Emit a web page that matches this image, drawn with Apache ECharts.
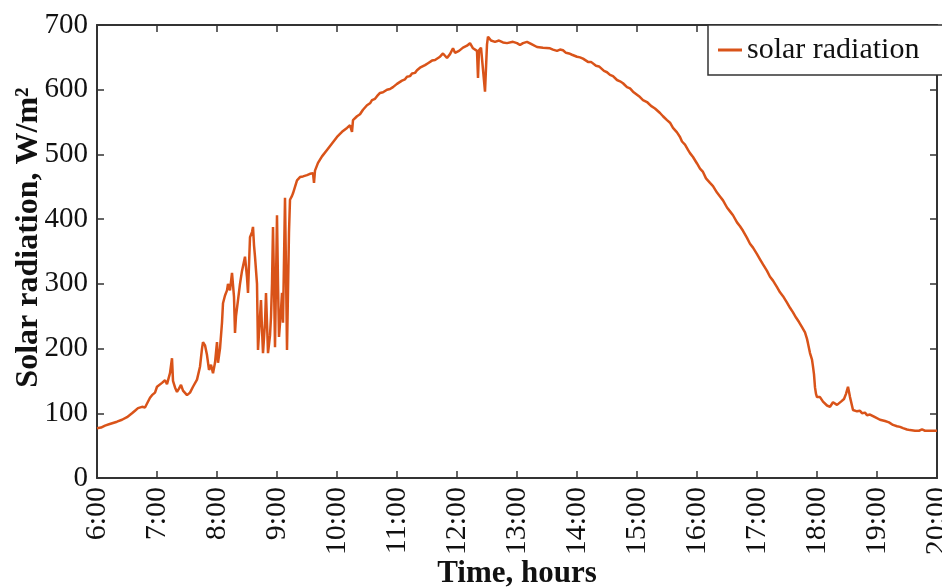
<!DOCTYPE html>
<html>
<head>
<meta charset="utf-8">
<script src="https://cdn.jsdelivr.net/npm/echarts@6/dist/echarts.min.js"></script>
<style>
html,body{margin:0;padding:0;background:#fff;}
#chart{width:942px;height:587px;}
</style>
</head>
<body>
<div id="chart"></div>
<script>
// Time of day (HH:MM) and solar radiation (W/m²)
var times = [
"6:00","6:02","6:04","6:06","6:08","6:10","6:12","6:14","6:16","6:18","6:20","6:22","6:25","6:27","6:30","6:32","6:35","6:38","6:41","6:43","6:45","6:48","6:50","6:53","6:55","6:58",
"7:00","7:02","7:05","7:08","7:10","7:13","7:15","7:16","7:18","7:20","7:22","7:24","7:26","7:30","7:33","7:36","7:40","7:43","7:45","7:46","7:48","7:50","7:52","7:54","7:56","7:58",
"8:00","8:01","8:03","8:05","8:06","8:08","8:10","8:11","8:13","8:15","8:17","8:18","8:19","8:21","8:23","8:25","8:28","8:30","8:31","8:33","8:35","8:36","8:37","8:38","8:40","8:41","8:43","8:44","8:45","8:46","8:48","8:49","8:50","8:51","8:53","8:54","8:55","8:56","8:57","8:58",
"9:00","9:01","9:02","9:04","9:05","9:06","9:08","9:09","9:10","9:12","9:13","9:15","9:16","9:18","9:20","9:23","9:26","9:30","9:33","9:36","9:37","9:38","9:41","9:43","9:45","9:47","9:50","9:52","9:55","9:57",
"10:00","10:02","10:05","10:07","10:10","10:13","10:15","10:16","10:18","10:20","10:23","10:26","10:28","10:30","10:33","10:35","10:38","10:40","10:43","10:46","10:50","10:53","10:56",
"11:00","11:02","11:05","11:08","11:10","11:13","11:15","11:18","11:20","11:23","11:25","11:28","11:31","11:33","11:35","11:38","11:40","11:43","11:46","11:48","11:50","11:53","11:56","11:58",
"12:02","12:06","12:10","12:13","12:16","12:18","12:20","12:21","12:22","12:24","12:26","12:28","12:30","12:31","12:34","12:38","12:42","12:46","12:50","12:56",
"13:00","13:03","13:06","13:10","13:15","13:20","13:26","13:33","13:36","13:40","13:43","13:46","13:49","13:52","13:55",
"14:00","14:03","14:06","14:08","14:11","14:14","14:16","14:19","14:22","14:24","14:27","14:30","14:33","14:36","14:40","14:43","14:46","14:50","14:53","14:56","14:58",
"15:02","15:06","15:10","15:14","15:18","15:23","15:26","15:30","15:33","15:36","15:40","15:43","15:45","15:48","15:51","15:53","15:56",
"16:00","16:03","16:06","16:09","16:13","16:16","16:20","16:23","16:26","16:30","16:33","16:36","16:40","16:43","16:46","16:50","16:53","16:56",
"17:00","17:03","17:06","17:10","17:13","17:16","17:20","17:23","17:26","17:30","17:33","17:36","17:39","17:42","17:45","17:48","17:50","17:51","17:53","17:55","17:56","17:57","17:58","17:59",
"18:00","18:03","18:06","18:10","18:13","18:16","18:18","18:20","18:24","18:27","18:29","18:31","18:33","18:36","18:38","18:40","18:43","18:45","18:48","18:50","18:53","18:55","18:58",
"19:00","19:03","19:05","19:08","19:10","19:12","19:14","19:16","19:18","19:20","19:23","19:26","19:28","19:30","19:33","19:35","19:38","19:40","19:42","19:45","19:48","19:50","19:53","19:55","19:58","20:00"
];
var radiation = [
77,79,78,80,81,80,83,84,85,86,87,88,90,92,94,96,100,104,108,110,110,109,110,124,128,132,
141,139,147,151,145,162,185,150,140,133,138,144,135,128,132,141,152,172,200,210,205,190,167,175,162,178,
210,178,200,240,270,282,290,300,290,317,280,224,250,275,300,320,342,310,286,372,380,388,360,342,300,198,250,275,230,193,240,286,240,193,220,249,300,388,300,202,
406,300,218,260,286,240,433,320,198,380,430,436,440,450,460,465,466,468,470,471,456,475,487,490,497,499,507,509,517,518,
527,529,535,536,541,545,535,553,555,559,562,569,571,576,579,584,586,590,595,596,600,601,604,
609,610,614,616,620,621,625,626,630,634,633,638,641,640,645,646,648,651,656,658,649,655,664,657,
660,665,668,672,664,661,660,618,661,665,662,597,670,682,676,674,676,673,672,674,
672,669,672,674,670,666,665,664,662,660,662,661,657,656,654,
651,650,648,647,643,643,641,637,636,633,629,627,623,621,615,613,610,604,602,597,594,
590,584,581,575,571,564,559,553,549,541,534,527,520,515,507,502,496,
486,478,473,463,456,451,441,435,429,418,412,406,395,389,382,371,362,356,
346,338,330,320,311,305,295,287,281,271,263,256,248,241,233,225,215,208,193,183,172,160,140,130,
125,125,118,112,110,117,117,113,118,122,130,141,125,105,106,103,104,100,101,97,98,95,94,
92,90,91,88,88,86,86,82,82,80,79,77,76,75,74,75,73,75,73,75,73,75,73,74,73,73
];
var xTicks = ["6:00","7:00","8:00","9:00","10:00","11:00","12:00","13:00","14:00","15:00","16:00","17:00","18:00","19:00","20:00"];

function toHours(s){var p=s.split(":");return +p[0]+(+p[1])/60;}
var seriesData = times.map(function(t,i){return [toHours(t), radiation[i]];});

var FONT = "'Liberation Serif','Times New Roman',serif";
var AX = '#333';
var chart = echarts.init(document.getElementById('chart'), null, {renderer:'canvas'});
var tickIn = {show:true, inside:true, length:7, lineStyle:{color:AX, width:1.5}};
chart.setOption({
  animation:false,
  backgroundColor:'#fff',
  grid:{left:97, right:5, top:25, bottom:109, containLabel:false, outerBoundsMode:'none'},
  legend:{
    data:['solar radiation'],
    left:708, top:25,
    padding:[10,40,10,10],
    itemWidth:24, itemHeight:3,
    icon:'rect',
    backgroundColor:'#fff',
    borderColor:AX, borderWidth:1.5, borderRadius:0,
    textStyle:{fontFamily:FONT, fontSize:30, color:'#111'}
  },
  xAxis:[{
    type:'value', min:6, max:20, interval:1, position:'bottom',
    axisLine:{show:true, onZero:false, lineStyle:{color:AX, width:2}},
    axisTick:tickIn,
    splitLine:{show:false},
    axisLabel:{rotate:90, margin:9, fontFamily:FONT, fontSize:30, color:'#111',
      formatter:function(v){var i=Math.round(v-6);return xTicks[i]||'';}},
    name:'Time, hours', nameLocation:'middle', nameGap:80, nameMoveOverlap:false,
    nameTextStyle:{fontFamily:FONT, fontSize:31, fontWeight:'bold', color:'#111'}
  },{
    type:'value', min:6, max:20, interval:1, position:'top',
    axisLine:{show:true, onZero:false, lineStyle:{color:AX, width:2}},
    axisTick:tickIn, axisLabel:{show:false}, splitLine:{show:false}
  }],
  yAxis:[{
    type:'value', min:0, max:700, interval:100, position:'left',
    axisLine:{show:true, onZero:false, lineStyle:{color:AX, width:2}},
    axisTick:tickIn,
    splitLine:{show:false},
    axisLabel:{margin:9, fontFamily:FONT, fontSize:29, color:'#111'},
    name:'Solar radiation, W/m²', nameLocation:'middle', nameGap:52, nameMoveOverlap:false,
    nameTextStyle:{fontFamily:FONT, fontSize:32, fontWeight:'bold', color:'#111', padding:[0,0,0,28]}
  },{
    type:'value', min:0, max:700, interval:100, position:'right',
    axisLine:{show:true, onZero:false, lineStyle:{color:AX, width:2}},
    axisTick:tickIn, axisLabel:{show:false}, splitLine:{show:false}
  }],
  series:[{
    name:'solar radiation', type:'line', xAxisIndex:0, yAxisIndex:0,
    data:seriesData, showSymbol:false, symbol:'none',
    lineStyle:{color:'#D95319', width:2.5}, itemStyle:{color:'#D95319'},
    z:3
  }]
});
</script>
</body>
</html>
